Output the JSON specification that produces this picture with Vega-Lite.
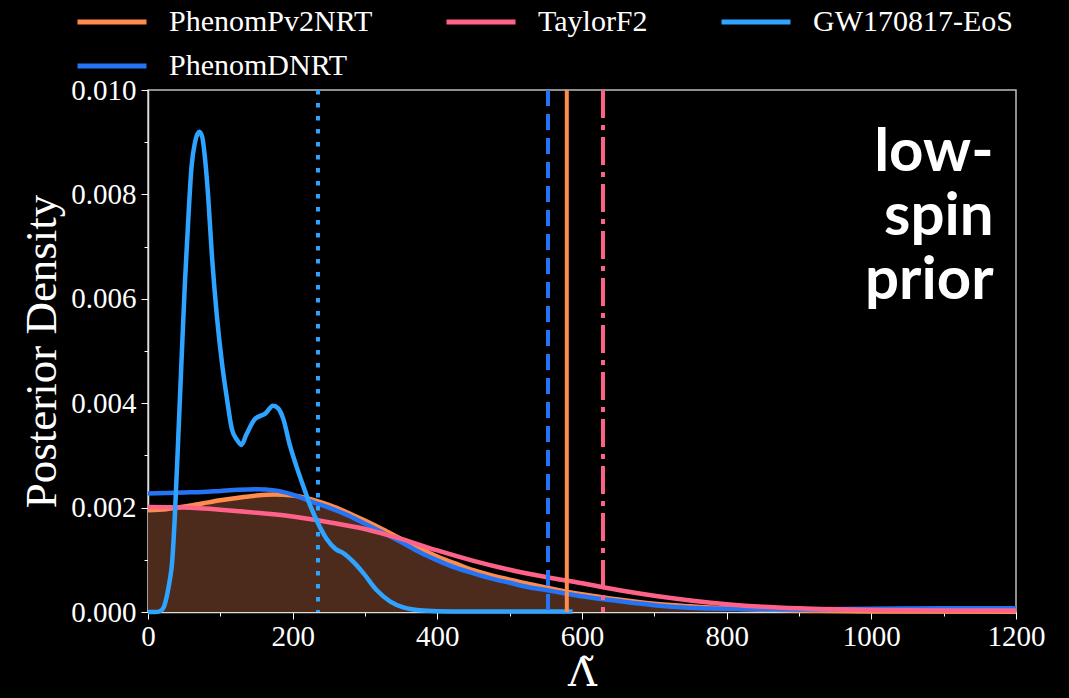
{
  "$schema": "https://vega.github.io/schema/vega-lite/v6.json",
  "width": 868,
  "height": 522,
  "autosize": {"type": "none"},
  "padding": {"left": 148, "top": 90, "right": 53, "bottom": 86},
  "background": "black",
  "config": {
    "view": {"stroke": "#bdbdbd", "strokeWidth": 1.5},
    "font": "Liberation Serif"
  },
  "datasets": {
    "curves": [
      {"model": "PhenomPv2NRT", "lambda": 0, "density": 0.00195},
      {"model": "PhenomPv2NRT", "lambda": 25, "density": 0.00197},
      {"model": "PhenomPv2NRT", "lambda": 50, "density": 0.00202},
      {"model": "PhenomPv2NRT", "lambda": 75, "density": 0.00208},
      {"model": "PhenomPv2NRT", "lambda": 100, "density": 0.00214},
      {"model": "PhenomPv2NRT", "lambda": 125, "density": 0.00219},
      {"model": "PhenomPv2NRT", "lambda": 150, "density": 0.00223},
      {"model": "PhenomPv2NRT", "lambda": 175, "density": 0.00225},
      {"model": "PhenomPv2NRT", "lambda": 200, "density": 0.00223},
      {"model": "PhenomPv2NRT", "lambda": 225, "density": 0.00216},
      {"model": "PhenomPv2NRT", "lambda": 250, "density": 0.00205},
      {"model": "PhenomPv2NRT", "lambda": 275, "density": 0.00191},
      {"model": "PhenomPv2NRT", "lambda": 300, "density": 0.00175},
      {"model": "PhenomPv2NRT", "lambda": 325, "density": 0.00158},
      {"model": "PhenomPv2NRT", "lambda": 350, "density": 0.0014},
      {"model": "PhenomPv2NRT", "lambda": 375, "density": 0.00123},
      {"model": "PhenomPv2NRT", "lambda": 400, "density": 0.00106},
      {"model": "PhenomPv2NRT", "lambda": 425, "density": 0.00093},
      {"model": "PhenomPv2NRT", "lambda": 450, "density": 0.0008},
      {"model": "PhenomPv2NRT", "lambda": 475, "density": 0.0007},
      {"model": "PhenomPv2NRT", "lambda": 500, "density": 0.00062},
      {"model": "PhenomPv2NRT", "lambda": 525, "density": 0.00054},
      {"model": "PhenomPv2NRT", "lambda": 550, "density": 0.00047},
      {"model": "PhenomPv2NRT", "lambda": 575, "density": 0.0004},
      {"model": "PhenomPv2NRT", "lambda": 600, "density": 0.00034},
      {"model": "PhenomPv2NRT", "lambda": 650, "density": 0.00024},
      {"model": "PhenomPv2NRT", "lambda": 700, "density": 0.00016},
      {"model": "PhenomPv2NRT", "lambda": 750, "density": 0.00011},
      {"model": "PhenomPv2NRT", "lambda": 800, "density": 0.00007},
      {"model": "PhenomPv2NRT", "lambda": 900, "density": 0.00003},
      {"model": "PhenomPv2NRT", "lambda": 1000, "density": 0.00001},
      {"model": "PhenomPv2NRT", "lambda": 1200, "density": 0.000003},

      {"model": "PhenomDNRT", "lambda": 0, "density": 0.00227},
      {"model": "PhenomDNRT", "lambda": 25, "density": 0.00228},
      {"model": "PhenomDNRT", "lambda": 50, "density": 0.00229},
      {"model": "PhenomDNRT", "lambda": 75, "density": 0.0023},
      {"model": "PhenomDNRT", "lambda": 100, "density": 0.00232},
      {"model": "PhenomDNRT", "lambda": 125, "density": 0.00234},
      {"model": "PhenomDNRT", "lambda": 150, "density": 0.00235},
      {"model": "PhenomDNRT", "lambda": 175, "density": 0.00233},
      {"model": "PhenomDNRT", "lambda": 200, "density": 0.00225},
      {"model": "PhenomDNRT", "lambda": 225, "density": 0.00212},
      {"model": "PhenomDNRT", "lambda": 250, "density": 0.002},
      {"model": "PhenomDNRT", "lambda": 275, "density": 0.00186},
      {"model": "PhenomDNRT", "lambda": 300, "density": 0.00169},
      {"model": "PhenomDNRT", "lambda": 325, "density": 0.00152},
      {"model": "PhenomDNRT", "lambda": 350, "density": 0.00134},
      {"model": "PhenomDNRT", "lambda": 375, "density": 0.00115},
      {"model": "PhenomDNRT", "lambda": 400, "density": 0.00099},
      {"model": "PhenomDNRT", "lambda": 425, "density": 0.00085},
      {"model": "PhenomDNRT", "lambda": 450, "density": 0.00074},
      {"model": "PhenomDNRT", "lambda": 475, "density": 0.00064},
      {"model": "PhenomDNRT", "lambda": 500, "density": 0.00056},
      {"model": "PhenomDNRT", "lambda": 525, "density": 0.00048},
      {"model": "PhenomDNRT", "lambda": 550, "density": 0.00042},
      {"model": "PhenomDNRT", "lambda": 575, "density": 0.00036},
      {"model": "PhenomDNRT", "lambda": 600, "density": 0.0003},
      {"model": "PhenomDNRT", "lambda": 650, "density": 0.00021},
      {"model": "PhenomDNRT", "lambda": 700, "density": 0.00013},
      {"model": "PhenomDNRT", "lambda": 800, "density": 0.00006},
      {"model": "PhenomDNRT", "lambda": 900, "density": 0.00005},
      {"model": "PhenomDNRT", "lambda": 1000, "density": 0.00006},
      {"model": "PhenomDNRT", "lambda": 1100, "density": 0.00007},
      {"model": "PhenomDNRT", "lambda": 1200, "density": 0.00007},

      {"model": "TaylorF2", "lambda": 0, "density": 0.00201},
      {"model": "TaylorF2", "lambda": 50, "density": 0.002},
      {"model": "TaylorF2", "lambda": 100, "density": 0.00196},
      {"model": "TaylorF2", "lambda": 150, "density": 0.0019},
      {"model": "TaylorF2", "lambda": 200, "density": 0.00183},
      {"model": "TaylorF2", "lambda": 250, "density": 0.00172},
      {"model": "TaylorF2", "lambda": 300, "density": 0.00159},
      {"model": "TaylorF2", "lambda": 350, "density": 0.0014},
      {"model": "TaylorF2", "lambda": 400, "density": 0.00118},
      {"model": "TaylorF2", "lambda": 450, "density": 0.00098},
      {"model": "TaylorF2", "lambda": 500, "density": 0.00081},
      {"model": "TaylorF2", "lambda": 550, "density": 0.00067},
      {"model": "TaylorF2", "lambda": 600, "density": 0.00055},
      {"model": "TaylorF2", "lambda": 650, "density": 0.00042},
      {"model": "TaylorF2", "lambda": 700, "density": 0.00031},
      {"model": "TaylorF2", "lambda": 750, "density": 0.00022},
      {"model": "TaylorF2", "lambda": 800, "density": 0.00015},
      {"model": "TaylorF2", "lambda": 850, "density": 0.0001},
      {"model": "TaylorF2", "lambda": 900, "density": 0.00007},
      {"model": "TaylorF2", "lambda": 1000, "density": 0.00004},
      {"model": "TaylorF2", "lambda": 1100, "density": 0.00003},
      {"model": "TaylorF2", "lambda": 1200, "density": 0.00003},

      {"model": "GW170817-EoS", "lambda": 0, "density": 0},
      {"model": "GW170817-EoS", "lambda": 10, "density": 0},
      {"model": "GW170817-EoS", "lambda": 17, "density": 0.00002},
      {"model": "GW170817-EoS", "lambda": 22, "density": 0.0001},
      {"model": "GW170817-EoS", "lambda": 26, "density": 0.0003},
      {"model": "GW170817-EoS", "lambda": 30, "density": 0.0006},
      {"model": "GW170817-EoS", "lambda": 33, "density": 0.0009},
      {"model": "GW170817-EoS", "lambda": 37, "density": 0.0018},
      {"model": "GW170817-EoS", "lambda": 42, "density": 0.0034},
      {"model": "GW170817-EoS", "lambda": 46, "density": 0.0047},
      {"model": "GW170817-EoS", "lambda": 51, "density": 0.0063},
      {"model": "GW170817-EoS", "lambda": 56, "density": 0.0076},
      {"model": "GW170817-EoS", "lambda": 60, "density": 0.0085},
      {"model": "GW170817-EoS", "lambda": 65, "density": 0.009},
      {"model": "GW170817-EoS", "lambda": 71, "density": 0.0092},
      {"model": "GW170817-EoS", "lambda": 75, "density": 0.0091},
      {"model": "GW170817-EoS", "lambda": 78, "density": 0.0088},
      {"model": "GW170817-EoS", "lambda": 83, "density": 0.008},
      {"model": "GW170817-EoS", "lambda": 88, "density": 0.0069},
      {"model": "GW170817-EoS", "lambda": 95, "density": 0.0057},
      {"model": "GW170817-EoS", "lambda": 102, "density": 0.0048},
      {"model": "GW170817-EoS", "lambda": 109, "density": 0.0041},
      {"model": "GW170817-EoS", "lambda": 116, "density": 0.0035},
      {"model": "GW170817-EoS", "lambda": 123, "density": 0.0033},
      {"model": "GW170817-EoS", "lambda": 129, "density": 0.0032},
      {"model": "GW170817-EoS", "lambda": 136, "density": 0.0034},
      {"model": "GW170817-EoS", "lambda": 148, "density": 0.0037},
      {"model": "GW170817-EoS", "lambda": 162, "density": 0.0038},
      {"model": "GW170817-EoS", "lambda": 173, "density": 0.00395},
      {"model": "GW170817-EoS", "lambda": 180, "density": 0.0039},
      {"model": "GW170817-EoS", "lambda": 187, "density": 0.0037},
      {"model": "GW170817-EoS", "lambda": 196, "density": 0.0032},
      {"model": "GW170817-EoS", "lambda": 205, "density": 0.0028},
      {"model": "GW170817-EoS", "lambda": 215, "density": 0.0024},
      {"model": "GW170817-EoS", "lambda": 224, "density": 0.00205},
      {"model": "GW170817-EoS", "lambda": 235, "density": 0.0017},
      {"model": "GW170817-EoS", "lambda": 247, "density": 0.0014},
      {"model": "GW170817-EoS", "lambda": 260, "density": 0.0012},
      {"model": "GW170817-EoS", "lambda": 270, "density": 0.00113},
      {"model": "GW170817-EoS", "lambda": 284, "density": 0.00096},
      {"model": "GW170817-EoS", "lambda": 298, "density": 0.00074},
      {"model": "GW170817-EoS", "lambda": 316, "density": 0.00042},
      {"model": "GW170817-EoS", "lambda": 335, "density": 0.0002},
      {"model": "GW170817-EoS", "lambda": 353, "density": 0.00009},
      {"model": "GW170817-EoS", "lambda": 380, "density": 0.00003},
      {"model": "GW170817-EoS", "lambda": 420, "density": 0.00001},
      {"model": "GW170817-EoS", "lambda": 500, "density": 0.00001},
      {"model": "GW170817-EoS", "lambda": 587, "density": 0.00001}
    ],
    "medians": [
      {"model": "GW170817-EoS", "lambda": 235},
      {"model": "PhenomDNRT", "lambda": 553},
      {"model": "PhenomPv2NRT", "lambda": 579},
      {"model": "TaylorF2", "lambda": 629}
    ]
  },
  "layer": [
    {
      "data": {"name": "curves"},
      "transform": [{"filter": "datum.model === 'PhenomPv2NRT'"}],
      "mark": {"type": "area", "color": "#4d2b1c", "interpolate": "monotone"},
      "encoding": {
        "x": {
          "field": "lambda",
          "type": "quantitative",
          "scale": {"domain": [0, 1200], "nice": false, "zero": false},
          "axis": {
            "title": "Λ̃",
            "titleFont": "DejaVu Serif",
            "titleFontSize": 40,
            "titleFontWeight": "normal",
            "titleColor": "white",
            "titlePadding": 2,
            "values": [0,50,100,150,200,250,300,350,400,450,500,550,600,650,700,750,800,850,900,950,1000,1050,1100,1150,1200],
            "labelExpr": "datum.value % 200 === 0 ? datum.label : ''",
            "format": "d",
            "labelFont": "Liberation Serif",
            "labelFontSize": 29,
            "labelColor": "white",
            "labelPadding": 3,
            "labelOverlap": false,
            "labelFlush": false,
            "labelBound": false,
            "tickColor": "white",
            "tickWidth": 1,
            "tickSize": {"condition": {"test": "datum.value % 200 === 0", "value": 7}, "value": 4},
            "domainColor": "#dddddd",
            "domainWidth": 1.5,
            "grid": false
          }
        },
        "y": {
          "field": "density",
          "type": "quantitative",
          "scale": {"domain": [0, 0.01], "nice": false},
          "axis": {
            "title": "Posterior Density",
            "titleFont": "Liberation Serif",
            "titleFontSize": 45,
            "titleFontWeight": "normal",
            "titleColor": "white",
            "titlePadding": 6,
            "values": [0,0.0005,0.001,0.0015,0.002,0.0025,0.003,0.0035,0.004,0.0045,0.005,0.0055,0.006,0.0065,0.007,0.0075,0.008,0.0085,0.009,0.0095,0.01],
            "labelExpr": "round(datum.value*10000) % 20 === 0 ? format(datum.value, '.3f') : ''",
            "labelFont": "Liberation Serif",
            "labelFontSize": 29,
            "labelColor": "white",
            "labelPadding": 5,
            "labelOverlap": false,
            "labelFlush": false,
            "labelBound": false,
            "tickColor": "white",
            "tickWidth": 1,
            "tickSize": {"condition": {"test": "round(datum.value*10000) % 20 === 0", "value": 7}, "value": 4},
            "domainColor": "#dddddd",
            "domainWidth": 1.5,
            "grid": false
          }
        }
      }
    },
    {
      "data": {"name": "curves"},
      "transform": [{"filter": "datum.model === 'PhenomPv2NRT'"}],
      "mark": {"type": "line", "strokeWidth": 4.5, "interpolate": "monotone"},
      "encoding": {
        "x": {"field": "lambda", "type": "quantitative"},
        "y": {"field": "density", "type": "quantitative"},
        "color": {
          "field": "model",
          "type": "nominal",
          "scale": {
            "domain": ["PhenomPv2NRT", "TaylorF2", "GW170817-EoS", "PhenomDNRT"],
            "range": ["#ff8c4e", "#ff6289", "#2ea3ff", "#2474f5"]
          },
          "legend": {
            "title": null,
            "orient": "none",
            "direction": "horizontal",
            "values": ["PhenomPv2NRT", "TaylorF2", "GW170817-EoS", "PhenomDNRT"],
            "legendX": -51,
            "legendY": -83,
            "columns": 3,
            "columnPadding": 63,
            "rowPadding": 14,
            "padding": 0,
            "symbolType": "M-3,0H3",
            "symbolSize": 529,
            "symbolStrokeWidth": 5,
            "labelFont": "Liberation Serif",
            "labelFontSize": 30,
            "labelColor": "white",
            "labelOffset": 42,
            "labelLimit": 400
          }
        }
      }
    },
    {
      "data": {"name": "curves"},
      "transform": [{"filter": "datum.model === 'PhenomDNRT'"}],
      "mark": {"type": "line", "strokeWidth": 4.5, "interpolate": "monotone"},
      "encoding": {
        "x": {"field": "lambda", "type": "quantitative"},
        "y": {"field": "density", "type": "quantitative"},
        "color": {"field": "model", "type": "nominal"}
      }
    },
    {
      "data": {"name": "curves"},
      "transform": [{"filter": "datum.model === 'TaylorF2'"}],
      "mark": {"type": "line", "strokeWidth": 4.5, "interpolate": "monotone"},
      "encoding": {
        "x": {"field": "lambda", "type": "quantitative"},
        "y": {"field": "density", "type": "quantitative"},
        "color": {"field": "model", "type": "nominal"}
      }
    },
    {
      "data": {"name": "curves"},
      "transform": [{"filter": "datum.model === 'GW170817-EoS'"}],
      "mark": {"type": "line", "strokeWidth": 4.5, "interpolate": "monotone"},
      "encoding": {
        "x": {"field": "lambda", "type": "quantitative"},
        "y": {"field": "density", "type": "quantitative"},
        "color": {"field": "model", "type": "nominal"}
      }
    },
    {
      "data": {"name": "medians"},
      "transform": [{"filter": "datum.model === 'GW170817-EoS'"}],
      "mark": {"type": "rule", "strokeWidth": 4, "strokeDash": [4.5, 8.5]},
      "encoding": {
        "x": {"field": "lambda", "type": "quantitative"},
        "color": {"field": "model", "type": "nominal"}
      }
    },
    {
      "data": {"name": "medians"},
      "transform": [{"filter": "datum.model === 'PhenomDNRT'"}],
      "mark": {"type": "rule", "strokeWidth": 4, "strokeDash": [16, 8]},
      "encoding": {
        "x": {"field": "lambda", "type": "quantitative"},
        "color": {"field": "model", "type": "nominal"}
      }
    },
    {
      "data": {"name": "medians"},
      "transform": [{"filter": "datum.model === 'PhenomPv2NRT'"}],
      "mark": {"type": "rule", "strokeWidth": 4},
      "encoding": {
        "x": {"field": "lambda", "type": "quantitative"},
        "color": {"field": "model", "type": "nominal"}
      }
    },
    {
      "data": {"name": "medians"},
      "transform": [{"filter": "datum.model === 'TaylorF2'"}],
      "mark": {"type": "rule", "strokeWidth": 4, "strokeDash": [28, 7, 5, 7]},
      "encoding": {
        "x": {"field": "lambda", "type": "quantitative"},
        "color": {"field": "model", "type": "nominal"}
      }
    },
    {
      "data": {"values": [{"label": "low-spin prior"}]},
      "mark": {
        "type": "text",
        "text": ["low-", "spin", "prior"],
        "font": "Lato",
        "fontWeight": "bold",
        "fontSize": 60,
        "lineHeight": 64,
        "align": "right",
        "baseline": "alphabetic",
        "color": "white"
      },
      "encoding": {
        "x": {"datum": 1169},
        "y": {"datum": 0.00845}
      }
    }
  ]
}
